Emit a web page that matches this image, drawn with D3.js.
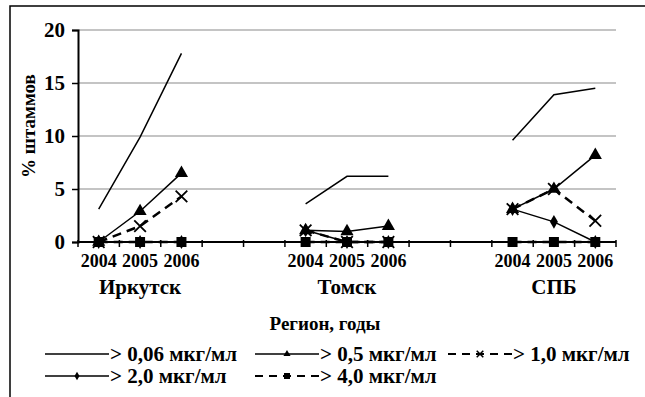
<!DOCTYPE html>
<html>
<head>
<meta charset="utf-8">
<script src="https://cdn.jsdelivr.net/npm/d3@7"></script>
<style>
  body { margin: 0; background: #fff; }
</style>
</head>
<body>
<div id="chart"></div>
<script>
// data
const regions = ['Иркутск', 'Томск', 'СПБ'];
const years = ['2004', '2005', '2006'];
const yTicks = [0, 5, 10, 15, 20];

const seriesNames = ['> 0,06 мкг/мл', '> 0,5 мкг/мл', '> 1,0 мкг/мл', '> 2,0 мкг/мл', '> 4,0 мкг/мл'];
// values per region, 2004..2006
const s006 = [[3.1, 9.9, 17.8], [3.6, 6.2, 6.2], [9.6, 13.9, 14.5]];
const s05  = [[0, 2.9, 6.5], [1.1, 1.0, 1.5], [3.1, 5.0, 8.2]];
const s10  = [[0, 1.5, 4.3], [1.1, 0, 0], [3.1, 5.0, 2.0]];
const s20  = [[0, 0, 0], [1.1, 0, 0], [3.1, 1.9, 0]];
const s40  = [[0, 0, 0], [0, 0, 0], [0, 0, 0]];

const svg = d3.select('#chart').append('svg')
    .attr('width', 645).attr('height', 397)
    .attr('font-family', 'Liberation Serif')
    .attr('font-weight', 'bold');

// text helper: x, y first, then font
function addText(parent, tx, ty, size, str, anchor) {
  return parent.append('text')
      .attr('x', tx).attr('y', ty)
      .attr('text-anchor', anchor || 'start')
      .attr('font-family', 'Liberation Serif')
      .attr('font-weight', 'bold')
      .attr('font-size', size)
      .style('font-family', '"Liberation Serif"')
      .style('font-weight', 'bold')
      .style('font-size', size + 'px')
      .text(str);
}

// frame (only top and left edges visible)
svg.append('path')
    .attr('d', 'M10,397V6H645')
    .attr('fill', 'none')
    .attr('stroke', '#000')
    .attr('stroke-width', 1.5);

const margin = {top: 30, left: 78};
const width = 538, height = 212;

// category slots: 3 years per region, 2 empty slots between regions
let slots = [];
regions.forEach((r, i) => {
  years.forEach(yr => slots.push(r + '|' + yr));
  if (i < regions.length - 1) {
    slots.push('gap' + i + 'a');
    slots.push('gap' + i + 'b');
  }
});

const x = d3.scaleBand().domain(slots).range([0, width]);
const y = d3.scaleLinear().domain([0, 20]).range([height, 0]);

const g = svg.append('g')
    .attr('transform', 'translate(' + margin.left + ',' + margin.top + ')');

// gridlines
g.selectAll('.grid')
    .data(yTicks.filter(d => d > 0))
    .enter().append('line')
    .attr('x1', 0).attr('x2', width)
    .attr('y1', d => y(d)).attr('y2', d => y(d))
    .attr('stroke', '#8a8a8a')
    .attr('stroke-width', 1.2);

// y axis: line and ticks from d3, labels drawn by hand
const yAxis = d3.axisLeft(y).tickValues(yTicks).tickSize(6).tickFormat('');
const yg = g.append('g').call(yAxis);
yg.select('.domain').attr('stroke-width', 2);
yg.selectAll('.tick line').attr('stroke-width', 1.5);
yTicks.forEach(t => addText(g, -13, y(t) + 7, 21, String(t), 'end'));

// x axis line and tick marks at slot boundaries
g.append('line')
    .attr('x1', 0).attr('x2', width)
    .attr('y1', height).attr('y2', height)
    .attr('stroke', '#000').attr('stroke-width', 2);
const bounds = slots.map(s => x(s)).concat([width]);
g.selectAll('.xtick')
    .data(bounds)
    .enter().append('line')
    .attr('x1', d => d).attr('x2', d => d)
    .attr('y1', height - 2).attr('y2', height + 5)
    .attr('stroke', '#000').attr('stroke-width', 1.5);

// year and region labels
const cx = s => x(s) + x.bandwidth() / 2;
regions.forEach(r => {
  years.forEach(yr => {
    addText(g, cx(r + '|' + yr), height + 25, 18, yr, 'middle');
  });
  addText(g, cx(r + '|' + years[1]), height + 52, 21, r, 'middle');
});

// axis titles
addText(svg, 325, 330, 19, 'Регион, годы', 'middle');
addText(svg, 0, 0, 19, '% штаммов', 'middle')
    .attr('transform', 'translate(35,126) rotate(-90)');

// series definitions
const series = [
  {name: seriesNames[0], values: s006, dash: null, width: 1.5, marker: null},
  {name: seriesNames[1], values: s05, dash: null, width: 1.5, marker: 'triangle'},
  {name: seriesNames[2], values: s10, dash: '9,6', width: 2.5, marker: 'x'},
  {name: seriesNames[3], values: s20, dash: null, width: 1.5, marker: 'diamond'},
  {name: seriesNames[4], values: s40, dash: '9,6', width: 2.5, marker: 'square'}
];

const line = d3.line().x(d => cx(d.key)).y(d => y(d.value));

function markerPath(type, big) {
  if (type === 'triangle') return d3.symbol(d3.symbolTriangle, big ? 75 : 22)();
  if (type === 'diamond') return d3.symbol(d3.symbolDiamond, big ? 55 : 22)();
  if (type === 'square') return d3.symbol(d3.symbolSquare, big ? 100 : 36)();
  if (type === 'x') return d3.symbol(d3.symbolX, big ? 90 : 30)();
  return null;
}

function drawMarker(sel, type, big) {
  const p = sel.append('path').attr('d', markerPath(type, big));
  if (type === 'x') {
    p.attr('fill', 'none').attr('stroke', '#000').attr('stroke-width', big ? 1.8 : 1.5);
  } else {
    p.attr('fill', '#000');
  }
  return p;
}

// draw in reverse so the first series sits on top
series.slice().reverse().forEach(s => {
  regions.forEach((r, ri) => {
    const pts = years.map((yr, yi) => ({key: r + '|' + yr, value: s.values[ri][yi]}));
    g.append('path')
        .datum(pts)
        .attr('fill', 'none')
        .attr('stroke', '#000')
        .attr('stroke-width', s.width)
        .attr('stroke-dasharray', s.dash)
        .attr('d', line);
    if (s.marker) {
      pts.forEach(p => {
        const mg = g.append('g')
            .attr('transform', 'translate(' + cx(p.key) + ',' + y(p.value) + ')');
        drawMarker(mg, s.marker, true);
      });
    }
  });
});

// legend
const legendItems = [
  {s: series[0], x: 45, y: 354},
  {s: series[1], x: 255, y: 354},
  {s: series[2], x: 448, y: 354},
  {s: series[3], x: 45, y: 376},
  {s: series[4], x: 255, y: 376}
];
const legendLen = 64;

legendItems.forEach(it => {
  const lg = svg.append('g').attr('transform', 'translate(' + it.x + ',' + it.y + ')');
  lg.append('line')
      .attr('x1', 0).attr('x2', legendLen)
      .attr('y1', 0).attr('y2', 0)
      .attr('stroke', '#000')
      .attr('stroke-width', it.s.dash ? 2 : 1.5)
      .attr('stroke-dasharray', it.s.dash ? '8,6' : null);
  if (it.s.marker) {
    const mg = lg.append('g').attr('transform', 'translate(' + legendLen / 2 + ',0)');
    drawMarker(mg, it.s.marker, false);
  }
  addText(lg, legendLen + 1, 7, 21, it.s.name);
});
</script>
</body>
</html>
